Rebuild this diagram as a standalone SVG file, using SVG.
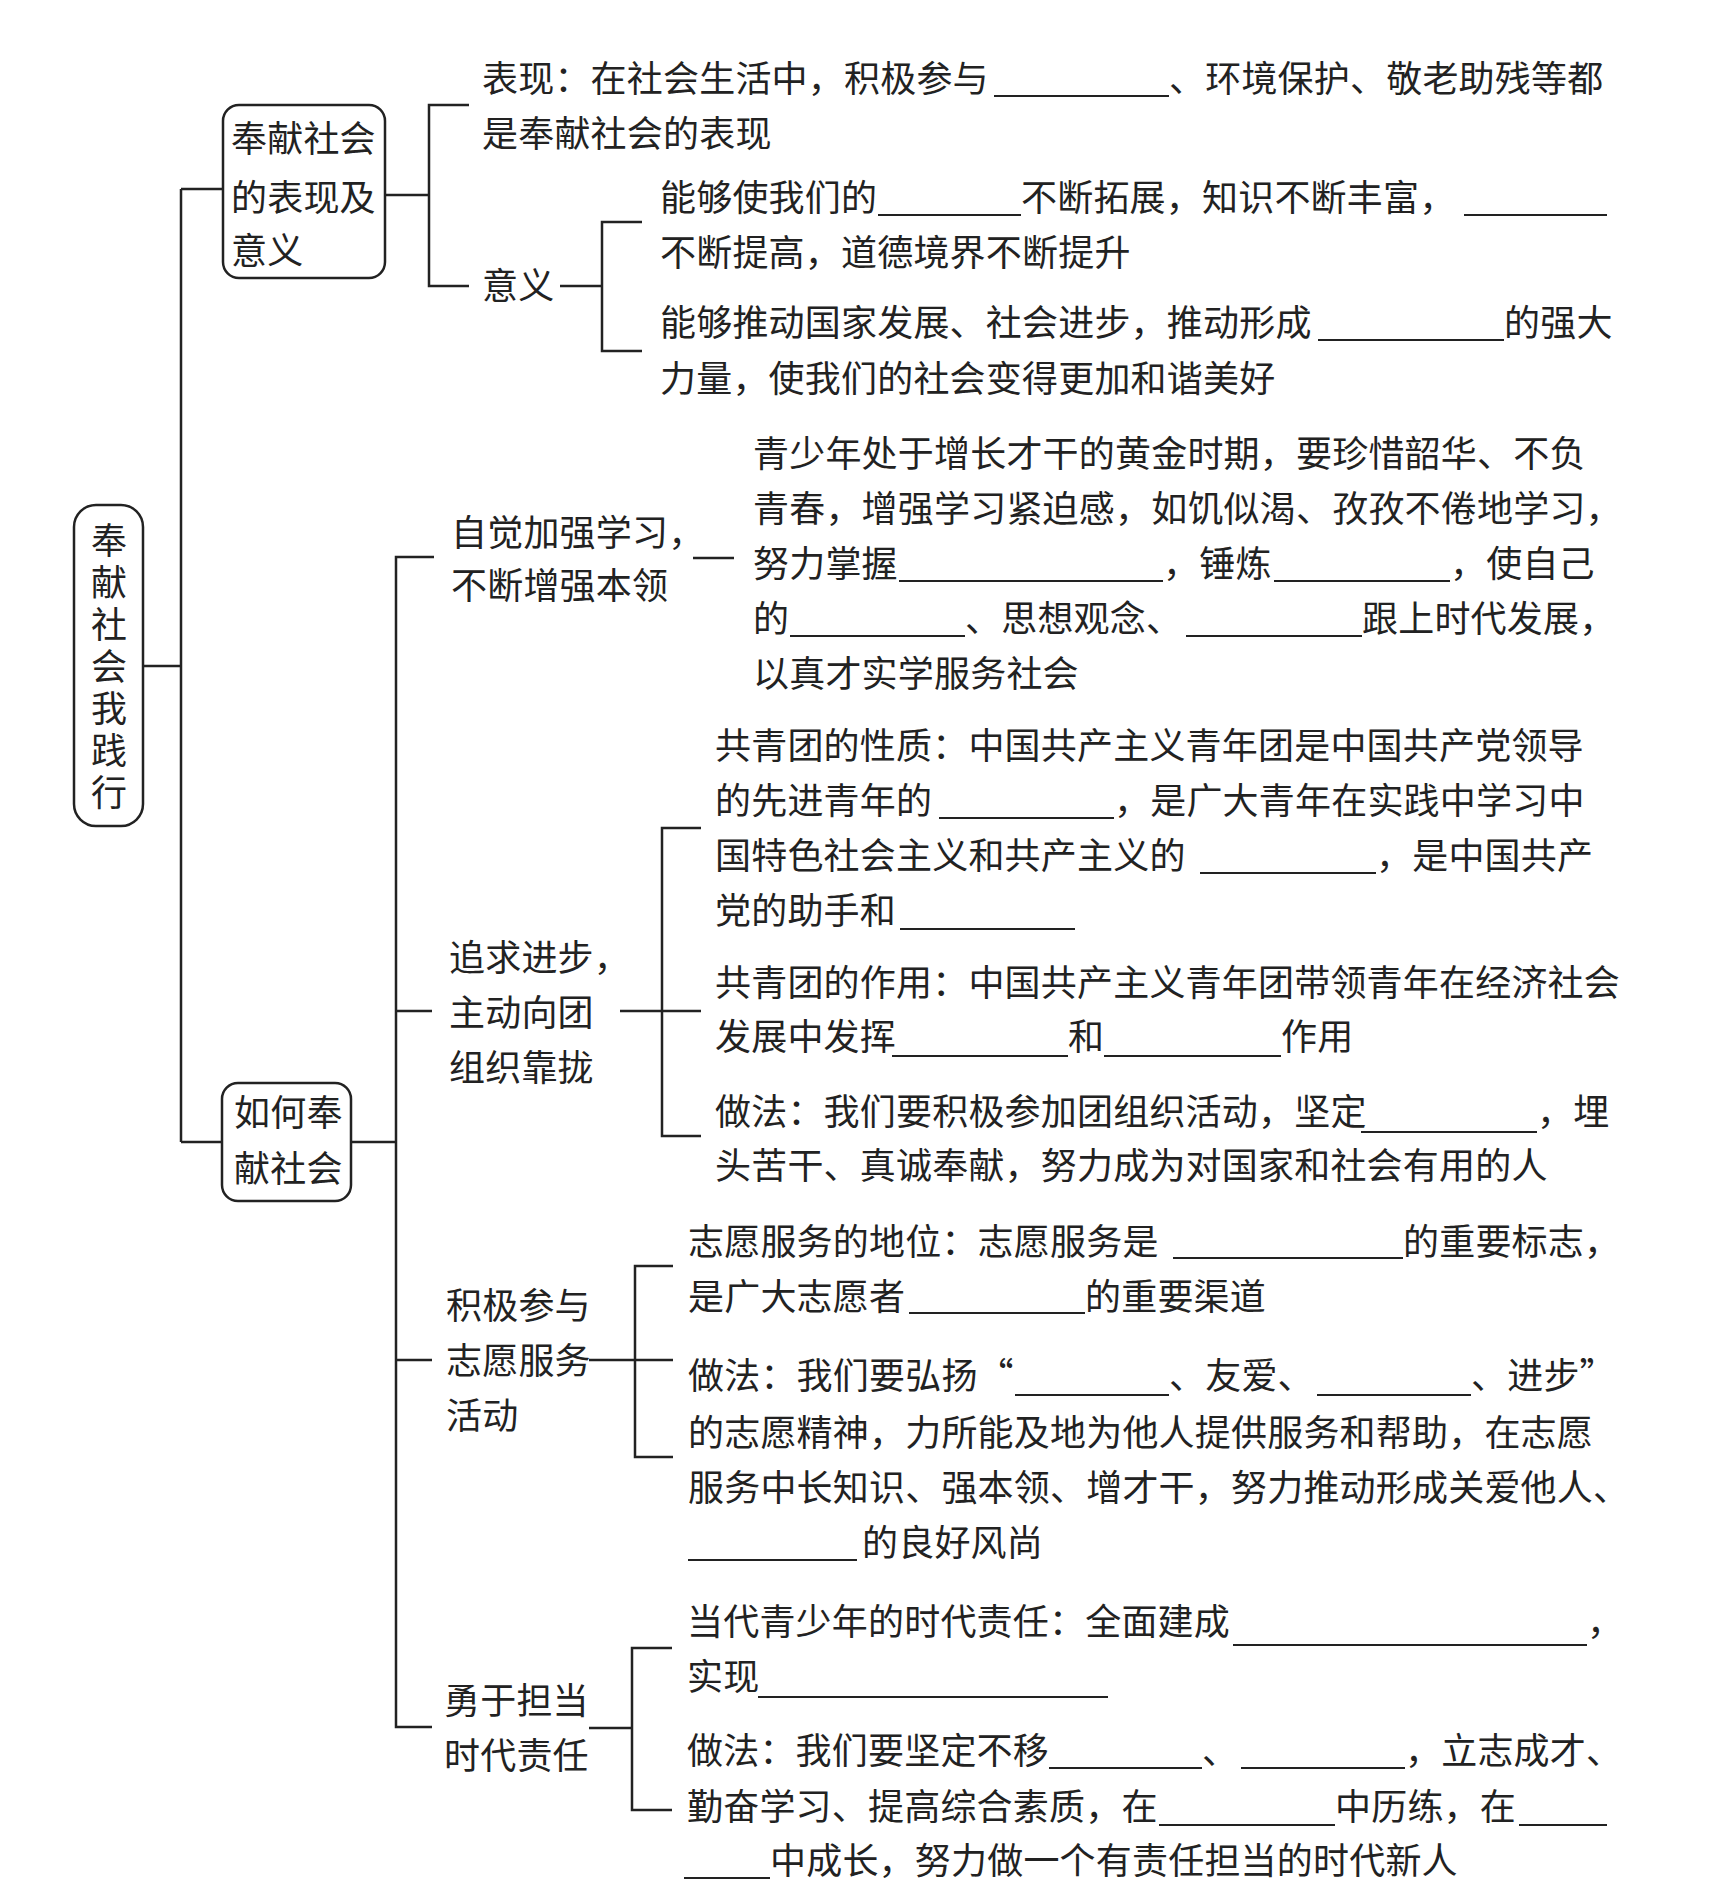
<svg xmlns="http://www.w3.org/2000/svg" width="1724" height="1892" viewBox="0 0 1724 1892">
<style>
.t{font-family:"Noto Sans CJK SC","Noto Sans CJK JP",sans-serif;font-size:36px;fill:#222;letter-spacing:0.2px}
.v{font-family:"Noto Sans CJK SC","Noto Sans CJK JP",sans-serif;font-size:36px;fill:#222;writing-mode:vertical-rl;letter-spacing:6px}
.box{fill:#fff;stroke:#222;stroke-width:2.5}
.c{fill:none;stroke:#222;stroke-width:2.5}
.b{stroke:#222;stroke-width:2}
</style>
<rect width="1724" height="1892" fill="#fff"/>
<g id="connectors">
<path class="c" d="M143 666H181M181 189V1142M181 189H223M181 1142H222"/>
<path class="c" d="M385 195H429M469 105H429V286H469"/>
<path class="c" d="M560 286H602M642 222H602V351H642"/>
<path class="c" d="M351 1142H396M434 557H396V1727H432M396 1011H432M396 1360H432"/>
<path class="c" d="M693 558H734"/>
<path class="c" d="M620 1011H701M701 828H662V1136H701"/>
<path class="c" d="M589 1360H673M673 1266H635V1457H673"/>
<path class="c" d="M589 1728H632M672 1648H632V1810H672"/>
</g>
<g id="root">
<rect class="box" x="74" y="505" width="69" height="321" rx="22"/>
<text class="v" x="109" y="522">奉献社会我践行</text>
</g>
<g id="n-biaoxian-yiyi">
<rect class="box" x="223" y="105" width="162" height="173" rx="16"/>
<text class="t" x="231" y="152">奉献社会</text>
<text class="t" x="231" y="211">的表现及</text>
<text class="t" x="231" y="264">意义</text>
</g>
<g id="n-biaoxian">
<text class="t" x="482" y="92">表现：在社会生活中，积极参与</text>
<line class="b" x1="994" y1="96" x2="1169" y2="96"/>
<text class="t" x="1169" y="92">、环境保护、敬老助残等都</text>
<text class="t" x="482" y="147">是奉献社会的表现</text>
</g>
<g id="n-yiyi">
<text class="t" x="482" y="299">意义</text>
</g>
<g id="n-yiyi-1">
<text class="t" x="660" y="211">能够使我们的</text>
<line class="b" x1="878" y1="215" x2="1021" y2="215"/>
<text class="t" x="1021" y="211">不断拓展，知识不断丰富，</text>
<line class="b" x1="1464" y1="215" x2="1607" y2="215"/>
<text class="t" x="660" y="266">不断提高，道德境界不断提升</text>
</g>
<g id="n-yiyi-2">
<text class="t" x="660" y="336">能够推动国家发展、社会进步，推动形成</text>
<line class="b" x1="1318" y1="340" x2="1504" y2="340"/>
<text class="t" x="1504" y="336">的强大</text>
<text class="t" x="660" y="392">力量，使我们的社会变得更加和谐美好</text>
</g>
<g id="n-ruhe">
<rect class="box" x="222" y="1083" width="129" height="118" rx="16"/>
<text class="t" x="234" y="1126">如何奉</text>
<text class="t" x="234" y="1182">献社会</text>
</g>
<g id="n-xuexi">
<text class="t" x="451" y="546">自觉加强学习，</text>
<text class="t" x="451" y="599">不断增强本领</text>
</g>
<g id="n-xuexi-1">
<text class="t" x="753" y="467">青少年处于增长才干的黄金时期，要珍惜韶华、不负</text>
<text class="t" x="753" y="522">青春，增强学习紧迫感，如饥似渴、孜孜不倦地学习，</text>
<text class="t" x="753" y="577">努力掌握</text>
<line class="b" x1="899" y1="581" x2="1163" y2="581"/>
<text class="t" x="1163" y="577">，锤炼</text>
<line class="b" x1="1274" y1="581" x2="1450" y2="581"/>
<text class="t" x="1450" y="577">，使自己</text>
<text class="t" x="753" y="632">的</text>
<line class="b" x1="790" y1="636" x2="965" y2="636"/>
<text class="t" x="965" y="632">、思想观念、</text>
<line class="b" x1="1186" y1="636" x2="1362" y2="636"/>
<text class="t" x="1362" y="632">跟上时代发展，</text>
<text class="t" x="753" y="687">以真才实学服务社会</text>
</g>
<g id="n-tuan">
<text class="t" x="449" y="971">追求进步，</text>
<text class="t" x="449" y="1026">主动向团</text>
<text class="t" x="449" y="1081">组织靠拢</text>
</g>
<g id="n-tuan-1">
<text class="t" x="715" y="759">共青团的性质：中国共产主义青年团是中国共产党领导</text>
<text class="t" x="715" y="814">的先进青年的</text>
<line class="b" x1="939" y1="818" x2="1114" y2="818"/>
<text class="t" x="1114" y="814">，是广大青年在实践中学习中</text>
<text class="t" x="715" y="869">国特色社会主义和共产主义的</text>
<line class="b" x1="1200" y1="873" x2="1376" y2="873"/>
<text class="t" x="1376" y="869">，是中国共产</text>
<text class="t" x="715" y="924">党的助手和</text>
<line class="b" x1="900" y1="929" x2="1075" y2="929"/>
</g>
<g id="n-tuan-2">
<text class="t" x="715" y="996">共青团的作用：中国共产主义青年团带领青年在经济社会</text>
<text class="t" x="715" y="1050">发展中发挥</text>
<line class="b" x1="892" y1="1056" x2="1068" y2="1056"/>
<text class="t" x="1068" y="1050">和</text>
<line class="b" x1="1104" y1="1056" x2="1281" y2="1056"/>
<text class="t" x="1281" y="1050">作用</text>
</g>
<g id="n-tuan-3">
<text class="t" x="715" y="1125">做法：我们要积极参加团组织活动，坚定</text>
<line class="b" x1="1361" y1="1132" x2="1537" y2="1132"/>
<text class="t" x="1537" y="1125">，埋</text>
<text class="t" x="715" y="1179">头苦干、真诚奉献，努力成为对国家和社会有用的人</text>
</g>
<g id="n-zhiyuan">
<text class="t" x="446" y="1319">积极参与</text>
<text class="t" x="446" y="1374">志愿服务</text>
<text class="t" x="446" y="1429">活动</text>
</g>
<g id="n-zhiyuan-1">
<text class="t" x="688" y="1255">志愿服务的地位：志愿服务是</text>
<line class="b" x1="1173" y1="1258" x2="1403" y2="1258"/>
<text class="t" x="1403" y="1255">的重要标志，</text>
<text class="t" x="688" y="1310">是广大志愿者</text>
<line class="b" x1="909" y1="1313" x2="1085" y2="1313"/>
<text class="t" x="1085" y="1310">的重要渠道</text>
</g>
<g id="n-zhiyuan-2">
<text class="t" x="688" y="1389">做法：我们要弘扬“</text>
<line class="b" x1="1015" y1="1395" x2="1169" y2="1395"/>
<text class="t" x="1169" y="1389">、友爱、</text>
<line class="b" x1="1317" y1="1395" x2="1471" y2="1395"/>
<text class="t" x="1471" y="1389">、进步”</text>
<text class="t" x="688" y="1446">的志愿精神，力所能及地为他人提供服务和帮助，在志愿</text>
<text class="t" x="688" y="1501">服务中长知识、强本领、增才干，努力推动形成关爱他人、</text>
<line class="b" x1="688" y1="1560" x2="857" y2="1560"/>
<text class="t" x="862" y="1556">的良好风尚</text>
</g>
<g id="n-zeren">
<text class="t" x="444" y="1714">勇于担当</text>
<text class="t" x="444" y="1769">时代责任</text>
</g>
<g id="n-zeren-1">
<text class="t" x="687" y="1635">当代青少年的时代责任：全面建成</text>
<line class="b" x1="1233" y1="1645" x2="1587" y2="1645"/>
<text class="t" x="1587" y="1635">，</text>
<text class="t" x="687" y="1690">实现</text>
<line class="b" x1="758" y1="1697" x2="1108" y2="1697"/>
</g>
<g id="n-zeren-2">
<text class="t" x="687" y="1764">做法：我们要坚定不移</text>
<line class="b" x1="1049" y1="1768" x2="1202" y2="1768"/>
<text class="t" x="1202" y="1764">、</text>
<line class="b" x1="1241" y1="1768" x2="1405" y2="1768"/>
<text class="t" x="1405" y="1764">，立志成才、</text>
<text class="t" x="687" y="1820">勤奋学习、提高综合素质，在</text>
<line class="b" x1="1159" y1="1825" x2="1335" y2="1825"/>
<text class="t" x="1335" y="1820">中历练，在</text>
<line class="b" x1="1519" y1="1825" x2="1607" y2="1825"/>
<line class="b" x1="684" y1="1878" x2="770" y2="1878"/>
<text class="t" x="770" y="1874">中成长，努力做一个有责任担当的时代新人</text>
</g>
</svg>
